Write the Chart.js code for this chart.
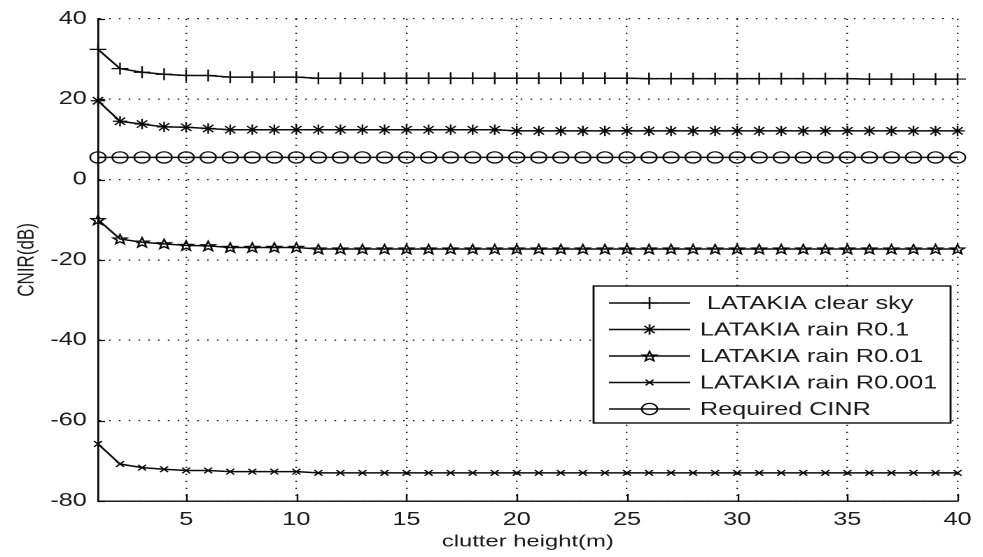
<!DOCTYPE html>
<html>
<head>
<meta charset="utf-8">
<title>CINR vs clutter height</title>
<script src="https://cdn.jsdelivr.net/npm/chart.js@4.4.1/dist/chart.umd.min.js"></script>
<style>
  html, body { margin: 0; padding: 0; background: #fff; overflow: hidden; }
  #wrap { width: 983px; height: 557px; }
  /* the figure is drawn narrow and widened, like the exported plot */
  #cinrChart { display: block; background: #fff; transform: scaleX(1.4); transform-origin: 0 0; }
</style>
</head>
<body>
<div id="wrap"><canvas id="cinrChart" width="702" height="557"></canvas></div>
<script>
// clutter height (m)
const heights = [1, 2, 3, 4, 5, 6, 7, 8, 9, 10, 11, 12, 13, 14, 15, 16, 17, 18, 19, 20,
                 21, 22, 23, 24, 25, 26, 27, 28, 29, 30, 31, 32, 33, 34, 35, 36, 37, 38, 39, 40];

// CINR (dB) per clutter height
const clearSky = [32.4, 27.6, 26.7, 26.2, 25.9, 25.9, 25.5, 25.5, 25.5, 25.5,
                  25.2, 25.2, 25.2, 25.2, 25.2, 25.2, 25.2, 25.2, 25.2, 25.2,
                  25.2, 25.2, 25.2, 25.2, 25.2, 25.1, 25.1, 25.1, 25.1, 25.1,
                  25.1, 25.1, 25.1, 25.1, 25.1, 25.0, 25.0, 25.0, 25.0, 25.0];
const rainR01 = [19.6, 14.5, 13.8, 13.1, 13.0, 12.7, 12.4, 12.4, 12.4, 12.4,
                 12.4, 12.4, 12.4, 12.4, 12.4, 12.4, 12.4, 12.4, 12.4, 12.1,
                 12.1, 12.1, 12.1, 12.1, 12.1, 12.1, 12.1, 12.1, 12.1, 12.1,
                 12.1, 12.1, 12.1, 12.1, 12.1, 12.1, 12.1, 12.1, 12.1, 12.1];
const rainR001 = [-10.0, -14.8, -15.6, -16.0, -16.4, -16.5, -16.9, -16.9, -16.9, -16.9,
                  -17.3, -17.3, -17.3, -17.3, -17.3, -17.3, -17.3, -17.3, -17.3, -17.3,
                  -17.3, -17.3, -17.3, -17.3, -17.3, -17.3, -17.3, -17.3, -17.3, -17.3,
                  -17.3, -17.3, -17.3, -17.3, -17.3, -17.3, -17.3, -17.3, -17.3, -17.3];
const rainR0001 = [-65.8, -70.8, -71.7, -72.1, -72.4, -72.4, -72.7, -72.7, -72.7, -72.7,
                   -73.0, -73.0, -73.0, -73.0, -73.0, -73.0, -73.0, -73.0, -73.0, -73.0,
                   -73.0, -73.0, -73.0, -73.0, -73.0, -73.0, -73.0, -73.0, -73.0, -73.0,
                   -73.0, -73.0, -73.0, -73.0, -73.0, -73.0, -73.0, -73.0, -73.0, -73.0];
const requiredCinr = [5.5, 5.5, 5.5, 5.5, 5.5, 5.5, 5.5, 5.5, 5.5, 5.5,
                      5.5, 5.5, 5.5, 5.5, 5.5, 5.5, 5.5, 5.5, 5.5, 5.5,
                      5.5, 5.5, 5.5, 5.5, 5.5, 5.5, 5.5, 5.5, 5.5, 5.5,
                      5.5, 5.5, 5.5, 5.5, 5.5, 5.5, 5.5, 5.5, 5.5, 5.5];

const xTicks = [5, 10, 15, 20, 25, 30, 35, 40];
const yTicks = [-80, -60, -40, -20, 0, 20, 40];

const ink = '#0a0a0a';
const gridInk = '#222';
const textInk = '#1a1a1a';
const fontFamily = '"Liberation Sans", Arial, sans-serif';

Chart.defaults.font.family = fontFamily;
Chart.defaults.color = textInk;

// outline five-pointed star, drawn as a path
function drawPentagram(ctx, cx, cy, r) {
  ctx.beginPath();
  for (let i = 0; i < 10; i++) {
    const rr = i % 2 ? r * 0.42 : r;
    const a = -Math.PI / 2 + i * Math.PI / 5;
    const px = cx + rr * Math.cos(a), py = cy + 0.6 + rr * Math.sin(a);
    if (i) ctx.lineTo(px, py); else ctx.moveTo(px, py);
  }
  ctx.closePath();
  ctx.stroke();
}

const toPoints = vals => heights.map((h, i) => ({ x: h, y: vals[i] }));

const series = [
  { label: ' LATAKIA clear sky', data: toPoints(clearSky), pointStyle: 'cross', pointRadius: 6 },
  { label: 'LATAKIA rain R0.1', data: toPoints(rainR01), pointStyle: 'star', pointRadius: 5.2 },
  { label: 'LATAKIA rain R0.01', data: toPoints(rainR001), pointStyle: 'pentagram', pointRadius: 0, starRadius: 5.1 },
  { label: 'LATAKIA rain R0.001', data: toPoints(rainR0001), pointStyle: 'crossRot', pointRadius: 4 },
  { label: 'Required CINR', data: toPoints(requiredCinr), pointStyle: 'circle', pointRadius: 5.6 }
].map(s => Object.assign({
  borderColor: ink,
  borderWidth: 1.5,
  pointBorderColor: ink,
  pointBackgroundColor: 'rgba(0,0,0,0)',
  pointBorderWidth: 1.2,
  fill: false,
  tension: 0,
  clip: false
}, s));

// white page behind everything
const paper = {
  id: 'paper',
  beforeDraw(chart) {
    const { ctx, width, height } = chart;
    ctx.save();
    ctx.fillStyle = '#fff';
    ctx.fillRect(0, 0, width, height);
    ctx.restore();
  }
};

// star markers for the datasets that use them
const starMarks = {
  id: 'starMarks',
  afterDatasetsDraw(chart) {
    const ctx = chart.ctx;
    chart.data.datasets.forEach((ds, i) => {
      if (ds.pointStyle !== 'pentagram') return;
      ctx.save();
      ctx.strokeStyle = ink;
      ctx.lineWidth = 1.3;
      ctx.lineJoin = 'miter';
      chart.getDatasetMeta(i).data.forEach(pt => drawPentagram(ctx, pt.x, pt.y, ds.starRadius));
      ctx.restore();
    });
  }
};

// short tick marks pointing into the plot
const innerTicks = {
  id: 'innerTicks',
  afterDraw(chart) {
    const { ctx, chartArea: a, scales: { x, y } } = chart;
    ctx.save();
    ctx.strokeStyle = ink;
    ctx.lineWidth = 1.2;
    ctx.beginPath();
    xTicks.forEach(v => {
      const px = Math.round(x.getPixelForValue(v)) + 0.5;
      ctx.moveTo(px, a.bottom);
      ctx.lineTo(px, a.bottom - 7);
    });
    yTicks.forEach(v => {
      const py = Math.round(y.getPixelForValue(v)) + 0.5;
      ctx.moveTo(a.left, py);
      ctx.lineTo(a.left + 5, py);
    });
    ctx.stroke();
    ctx.restore();
  }
};

// boxed legend in the lower right of the plot
const boxLegend = {
  id: 'boxLegend',
  afterDraw(chart) {
    const { ctx, chartArea: a } = chart;
    const right = a.right - 5, left = right - 255;
    const top = 286, rowH = 26.5, first = 303;
    const bottom = first + rowH * 4 + 14;
    ctx.save();
    ctx.fillStyle = '#fff';
    ctx.fillRect(left, top, right - left, bottom - top);
    ctx.strokeStyle = ink;
    ctx.lineWidth = 1.4;
    ctx.strokeRect(left, top, right - left, bottom - top);
    chart.data.datasets.forEach((ds, i) => {
      const cy = first + i * rowH;
      ctx.strokeStyle = ink;
      ctx.lineWidth = 1.5;
      ctx.beginPath();
      ctx.moveTo(left + 11, cy);
      ctx.lineTo(left + 69, cy);
      ctx.stroke();
      ctx.fillStyle = 'rgba(0,0,0,0)';
      ctx.lineWidth = 1.3;
      if (ds.pointStyle === 'pentagram') {
        drawPentagram(ctx, left + 40, cy, ds.starRadius);
      } else {
        Chart.helpers.drawPoint(ctx, {
          pointStyle: ds.pointStyle, radius: ds.pointRadius, rotation: 0, borderWidth: 1.3
        }, left + 40, cy);
      }
      ctx.fillStyle = textInk;
      ctx.font = '18px ' + fontFamily;
      ctx.textBaseline = 'middle';
      ctx.textAlign = 'left';
      ctx.fillText(ds.label, left + 76, cy + 1);
    });
    ctx.restore();
  }
};

new Chart(document.getElementById('cinrChart'), {
  type: 'line',
  data: { datasets: series },
  plugins: [paper, starMarks, innerTicks, boxLegend],
  options: {
    responsive: false,
    devicePixelRatio: 2,
    animation: false,
    events: [],
    layout: { padding: { top: 17, right: 10.6, left: 0, bottom: 0 } },
    plugins: { legend: { display: false }, tooltip: { enabled: false } },
    scales: {
      x: {
        type: 'linear',
        min: 1,
        max: 40,
        afterBuildTicks: s => { s.ticks = xTicks.map(v => ({ value: v })); },
        afterFit: s => { s.height = 56; },
        grid: { color: gridInk, lineWidth: 1.2, drawTicks: false },
        border: { display: true, color: ink, width: 1.4, dash: [1.2, 5.8] },
        ticks: { padding: 8, font: { size: 18 }, color: textInk, maxRotation: 0 },
        title: { display: true, text: 'clutter height(m)', font: { size: 17 }, color: textInk,
                 padding: { top: 0, bottom: 5 } }
      },
      y: {
        type: 'linear',
        min: -80,
        max: 40,
        afterBuildTicks: s => { s.ticks = yTicks.map(v => ({ value: v })); },
        afterFit: s => { s.width = 70; },
        grid: { color: gridInk, lineWidth: 1.2, drawTicks: false },
        border: { display: true, color: ink, width: 1.4, dash: [1.2, 5.8] },
        ticks: { padding: 8, font: { size: 18 }, color: textInk },
        title: { display: true, text: 'CNIR(dB)', font: { size: 17 }, color: textInk,
                 padding: { top: 9, bottom: 0 } }
      }
    }
  }
});
</script>
</body>
</html>
